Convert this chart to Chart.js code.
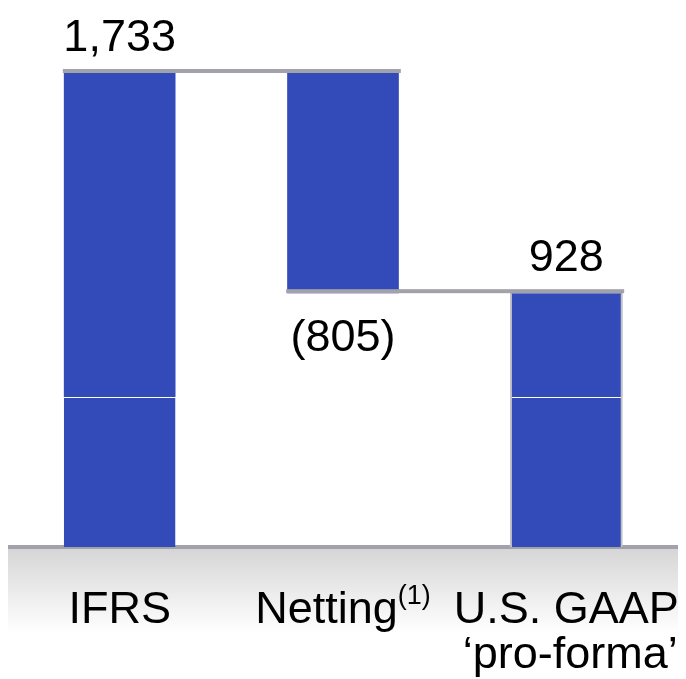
<!DOCTYPE html>
<html><head><meta charset="utf-8">
<script src="https://cdn.jsdelivr.net/npm/chart.js@4/dist/chart.umd.min.js"></script>
<style>html,body{margin:0;padding:0;background:#fff}#wrap{width:686px;height:679px;position:relative}</style>
</head><body><div id="wrap"><canvas id="c"></canvas></div>
<script>
// ---- data ----
const categories = ['IFRS', 'Netting', 'U.S. GAAP'];
const categorySecondLine = ['', '', '\u2018pro-forma\u2019'];
const categorySuperscripts = ['', '(1)', ''];
const amounts = [1733, -805, 928];
const barKinds = ['total', 'delta', 'total'];
const segmentSplit = [548, null, 548];
const framedBars = [false, false, true];
const yMax = 1733;

// ---- derived ----
let running = 0;
const levels = [];
const ranges = amounts.map((a, i) => {
  if (barKinds[i] === 'total') { running = a; levels.push(running); return [0, a]; }
  const s = running; running = s + a; levels.push(running);
  return [Math.min(s, running), Math.max(s, running)];
});
const lowerData = ranges.map((r, i) => segmentSplit[i] != null ? [r[0], segmentSplit[i]] : null);
const upperData = ranges.map((r, i) => segmentSplit[i] != null ? [segmentSplit[i], r[1]] : r);
const frameData = ranges.map((r, i) => framedBars[i] ? r : null);
const fmt = a => a < 0 ? '(' + Math.abs(a).toLocaleString('en-US') + ')' : a.toLocaleString('en-US');

const BLUE = '#334bb8';
const GREY = '#a2a2aa';
const FONT = "'Liberation Sans', Arial, sans-serif";

const decor = {
  id: 'decor',
  beforeDatasetsDraw(chart) {
    const {ctx, chartArea: ca} = chart;
    ctx.save();
    const g = ctx.createLinearGradient(0, ca.bottom + 2, 0, ca.bottom + 86);
    g.addColorStop(0, '#d6d6d6');
    g.addColorStop(1, '#ffffff');
    ctx.fillStyle = g;
    ctx.fillRect(ca.left, ca.bottom + 2, ca.right - ca.left, 84);
    ctx.fillStyle = GREY;
    ctx.fillRect(ca.left, ca.bottom - 2, ca.right - ca.left, 4);
    ctx.restore();
  },
  afterDatasetsDraw(chart) {
    const {ctx, chartArea: ca} = chart;
    const ys = chart.scales.y, xs = chart.scales.x;
    const meta = chart.getDatasetMeta(2);
    ctx.save();
    // connectors
    ctx.fillStyle = GREY;
    for (let i = 0; i < categories.length - 1; i++) {
      const a = meta.data[i], b = meta.data[i + 1];
      const x0 = a.x - a.width / 2, x1 = b.x + b.width / 2 + 2;
      const y = ys.getPixelForValue(levels[i]);
      ctx.fillRect(x0 - 1, y - 4, x1 - x0 + 1, 4);
    }
    // value labels
    ctx.fillStyle = '#000';
    ctx.font = '45px ' + FONT;
    ctx.textAlign = 'center';
    ctx.textBaseline = 'alphabetic';
    amounts.forEach((a, i) => {
      const x = xs.getPixelForValue(i);
      if (a >= 0) ctx.fillText(fmt(a), x, ys.getPixelForValue(ranges[i][1]) - 22);
      else ctx.fillText(fmt(a), x, ys.getPixelForValue(ranges[i][0]) + 58);
    });
    // category labels
    categories.forEach((c, i) => {
      const x = xs.getPixelForValue(i);
      const base = ca.bottom + 76;
      ctx.font = '45px ' + FONT;
      const w1 = ctx.measureText(c).width;
      ctx.font = '27px ' + FONT;
      const w2 = categorySuperscripts[i] ? ctx.measureText(categorySuperscripts[i]).width : 0;
      const start = x - (w1 + w2) / 2;
      ctx.textAlign = 'left';
      ctx.font = '45px ' + FONT;
      ctx.fillText(c, start, base);
      if (w2) { ctx.font = '27px ' + FONT; ctx.fillText(categorySuperscripts[i], start + w1, base - 19); }
      if (categorySecondLine[i]) {
        ctx.font = '45px ' + FONT;
        ctx.textAlign = 'center';
        ctx.fillText(categorySecondLine[i], x + 4, base + 45);
      }
    });
    ctx.restore();
  }
};

new Chart(document.getElementById('c'), {
  type: 'bar',
  data: {
    labels: categories,
    datasets: [
      { label: 'frame', data: frameData, order: 0, grouped: false, barPercentage: 0.505, categoryPercentage: 1,
        backgroundColor: 'rgba(0,0,0,0)', borderColor: '#c2c2c6', borderWidth: {left: 2, right: 2, top: 0, bottom: 0}, borderSkipped: false },
      { label: 'lower', data: lowerData, order: 1, grouped: false, barPercentage: 0.5, categoryPercentage: 1,
        backgroundColor: BLUE, borderColor: '#ffffff', borderWidth: {top: 1, left: 0, right: 0, bottom: 0}, borderSkipped: false },
      { label: 'upper', data: upperData, order: 1, grouped: false, barPercentage: 0.5, categoryPercentage: 1,
        backgroundColor: BLUE, borderWidth: 0 }
    ]
  },
  options: {
    responsive: true, maintainAspectRatio: false, animation: false,
    layout: { padding: { top: 73, bottom: 132, left: 8, right: 8 } },
    plugins: { legend: { display: false }, tooltip: { enabled: false } },
    scales: {
      x: { display: false, offset: true },
      y: { display: false, min: 0, max: yMax }
    }
  },
  plugins: [decor]
});
</script></body></html>
